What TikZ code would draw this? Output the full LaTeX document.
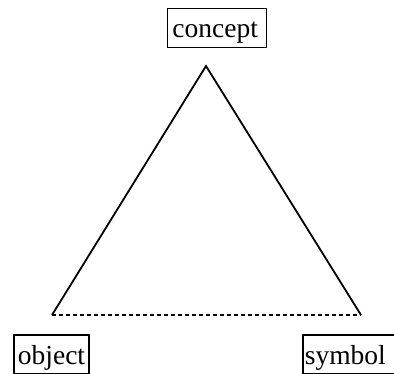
\documentclass[tikz,border=0pt]{standalone}
\usepackage{fontspec}
\setmainfont{Liberation Serif}
\begin{document}
\begin{tikzpicture}[x=1pt,y=-1pt,
  label box/.style={draw=black, line width=1.8pt, inner xsep=0pt, inner ysep=0pt,
    minimum height=39pt, font=\fontsize{27.5}{31}\selectfont},
  side/.style={draw=black, line width=1.8pt},
  base/.style={draw=black, line width=1.3pt, dash pattern=on 4pt off 3pt}]
  \useasboundingbox (0,0) rectangle (394,373);
  \clip (0,0) rectangle (394,373);
  % labels: a strut in each box keeps the baselines level
  \newcommand{\lowstrut}{\rule[-5pt]{0pt}{31pt}}
  \node[label box, anchor=north west] (concept) at (166.5,7.5)
    {\lowstrut\makebox[99pt][l]{\hspace{5pt}concept}};
  \node[label box, anchor=north west] (object) at (13,334)
    {\lowstrut\makebox[75pt][l]{\hspace{4pt}object}};
  \node[label box, anchor=north west] (symbol) at (302,334)
    {\lowstrut\makebox[100pt][l]{\hspace{2pt}symbol}};
  % triangle corners
  \coordinate (apex) at (206,66);
  \coordinate (left) at (52,315);
  \coordinate (right) at (361,315);
  \draw[side, line join=miter] (left) -- (apex) -- (right);
  \draw[base] (left) -- (right);
\end{tikzpicture}
\end{document}
